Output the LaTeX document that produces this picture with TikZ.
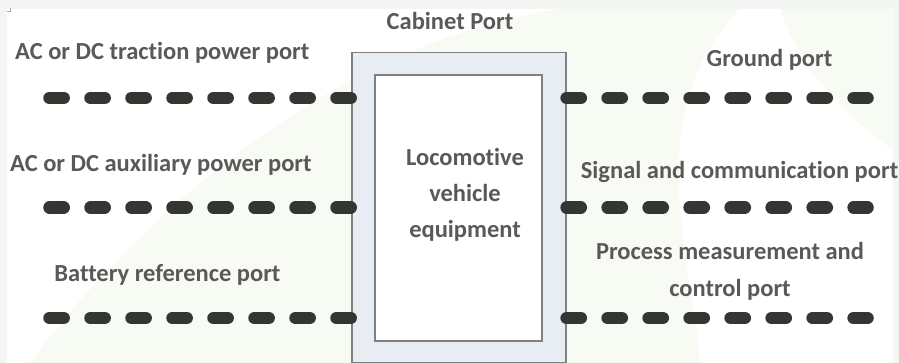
\documentclass[tikz,border=0pt]{standalone}
\usepackage{fontspec}
\setmainfont{Carlito}[Ligatures=NoCommon]
\definecolor{txtgray}{HTML}{595959}
\definecolor{dashdark}{HTML}{343632}
\definecolor{boxfill}{HTML}{E8EDF3}
\definecolor{boxline}{HTML}{808080}
\definecolor{pagegray}{HTML}{F4F6F3}
\definecolor{wmgreen}{HTML}{F7FBF4}
\begin{document}
\begin{tikzpicture}[x=1pt,y=-1pt,
  lbl/.style={font=\bfseries\fontsize{24.5}{36}\selectfont, text=txtgray,
    inner sep=0pt, anchor=base},
  portline/.style={draw=dashdark, line width=12.5pt, line cap=round,
    dash pattern=on 14.2pt off 26.8pt},
  cabinetbox/.style={draw=boxline, line width=1.2pt, fill=boxfill,
    minimum width=214pt, minimum height=310pt, inner sep=0pt},
  equipbox/.style={draw=boxline, line width=1.2pt, fill=white,
    minimum width=167pt, minimum height=266pt, inner sep=0pt}]
\useasboundingbox (0,0) rectangle (899,363);
% page and faint watermark
\fill[pagegray] (0,0) rectangle (899,363);
\fill[white] (7,9) rectangle (893,363);
\fill[wmgreen] (30,363) .. controls (150,200) and (350,40) .. (560,9)
  -- (740,9) .. controls (640,110) and (690,250) .. (700,363) -- cycle;
\fill[wmgreen] (780,9) .. controls (800,70) and (850,120) .. (893,150)
  -- (893,9) -- cycle;
\draw[gray!70, line width=0.6pt] (7,11) -- (10.5,11) -- (10.5,8.5);

% cabinet and equipment
\node[cabinetbox] (cabinet) at (459,207.5) {};
\node[equipbox] (equip) at (458.5,208) {};
\node[lbl, align=center] (equiptext) at (465,237.5)
  {Locomotive\\vehicle\\equipment};

% port lines
\coordinate (tl) at (49.5,98);
\coordinate (al) at (49.5,207.5);
\coordinate (bl) at (49.5,318);
\coordinate (gr) at (867.5,98);
\coordinate (sr) at (867.5,207.5);
\coordinate (pr) at (867.5,318);
\draw[portline] (tl) -- (tl -| cabinet.west);
\draw[portline] (al) -- (al -| cabinet.west);
\draw[portline] (bl) -- (bl -| cabinet.west);
\draw[portline] (gr -| cabinet.east) -- (gr);
\draw[portline] (sr -| cabinet.east) -- (sr);
\draw[portline] (pr -| cabinet.east) -- (pr);

% labels
\node[lbl] (cabport) at (450,30) {Cabinet Port};
\node[lbl, anchor=base west] (traction) at (15,60) {AC or DC traction power port};
\node[lbl, anchor=base west] (aux) at (10,172) {AC or DC auxiliary power port};
\node[lbl] (battery) at (167.5,282) {Battery reference port};
\node[lbl] (ground) at (769.5,67) {Ground port};
\node[lbl] (signal) at (739.5,179) {Signal and communication port};
\node[lbl, align=center] (process) at (730,296)
  {Process measurement and\\control port};
\end{tikzpicture}
\end{document}
